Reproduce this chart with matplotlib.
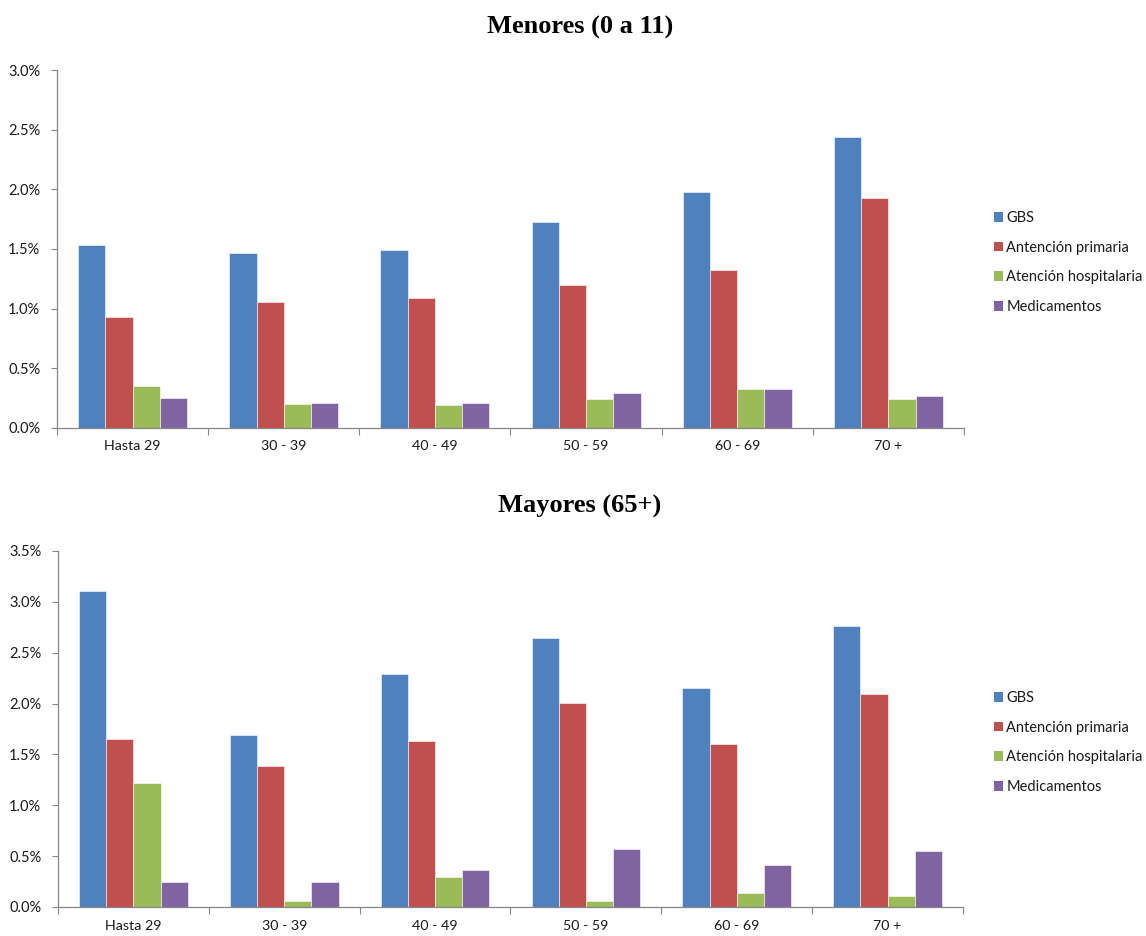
import numpy as np
import matplotlib
matplotlib.use("Agg")
import matplotlib.pyplot as plt
from matplotlib.ticker import FuncFormatter, FixedLocator
from matplotlib.patches import Patch

age_groups = ["Hasta 29", "30 - 39", "40 - 49", "50 - 59", "60 - 69", "70 +"]
series_names = ["GBS", "Antención primaria", "Atención hospitalaria", "Medicamentos"]
colors = ["#4F81BD", "#C0504D", "#9BBB59", "#8064A2"]

# Percent values per age group
menores_gbs = [1.53, 1.47, 1.49, 1.73, 1.98, 2.44]
menores_primaria = [0.93, 1.055, 1.09, 1.20, 1.325, 1.925]
menores_hospital = [0.35, 0.20, 0.19, 0.24, 0.325, 0.245]
menores_medic = [0.255, 0.21, 0.21, 0.29, 0.33, 0.265]

mayores_gbs = [3.11, 1.69, 2.29, 2.64, 2.15, 2.76]
mayores_primaria = [1.65, 1.39, 1.63, 2.01, 1.60, 2.09]
mayores_hospital = [1.215, 0.055, 0.295, 0.06, 0.14, 0.11]
mayores_medic = [0.25, 0.25, 0.365, 0.57, 0.41, 0.555]

plt.rcParams["font.family"] = ["Lato", "DejaVu Sans"]

fig = plt.figure(figsize=(11.46, 9.36), dpi=100)

panels = [
    ("Menores (0 a 11)", [menores_gbs, menores_primaria, menores_hospital, menores_medic],
     3.0, [57 / 1146, 1 - 428 / 936, 907 / 1146, 358 / 936], 1 - 27 / 936, 1 - 229 / 936),
    ("Mayores (65+)", [mayores_gbs, mayores_primaria, mayores_hospital, mayores_medic],
     3.5, [58 / 1146, 1 - 907 / 936, 905 / 1146, 356 / 936], 1 - 506 / 936, 1 - 709 / 936),
]

x = np.arange(len(age_groups))
width = 0.18
axis_grey = "#868686"
text_col = "#1a1a1a"

for title, values, ymax, rect, title_y, legend_y in panels:
    ax = fig.add_axes(rect)
    for i, (vals, col) in enumerate(zip(values, colors)):
        ax.bar(x + (i - 1.5) * width, vals, width=width, color=col,
               edgecolor="white", linewidth=0.4, zorder=2)
    ax.set_xlim(-0.5, len(age_groups) - 0.5)
    ax.set_ylim(0, ymax)
    ax.yaxis.set_major_locator(FixedLocator(np.arange(0, ymax + 0.01, 0.5)))
    ax.yaxis.set_major_formatter(FuncFormatter(lambda v, p: f"{v:.1f}%"))
    ax.set_xticks(x)
    ax.set_xticklabels(age_groups)
    ax.set_xticks(np.arange(-0.5, len(age_groups)), minor=True)
    ax.tick_params(axis="x", which="major", length=0, pad=9, labelsize=10.3, colors=text_col)
    ax.tick_params(axis="x", which="minor", length=5, width=0.8, color=axis_grey)
    ax.tick_params(axis="y", length=4, width=0.8, color=axis_grey, labelsize=10.5,
                   labelcolor=text_col, pad=8)
    for s in ["top", "right"]:
        ax.spines[s].set_visible(False)
    for s in ["left", "bottom"]:
        ax.spines[s].set_color(axis_grey)
        ax.spines[s].set_linewidth(0.9)

    fig.text(580 / 1146, title_y, title, ha="center", va="center",
             family="Liberation Serif", fontweight="bold", fontsize=19, color="black")

    handles = [Patch(facecolor=c, edgecolor="none") for c in colors]
    fig.legend(handles, series_names, loc="upper left",
               bbox_to_anchor=(988 / 1146, legend_y + 24 / 936), frameon=False,
               fontsize=10.5, handlelength=0.65, handleheight=0.65, handletextpad=0.2,
               labelspacing=1.08, borderaxespad=0, labelcolor=text_col)

fig.savefig("out.png", dpi=100, facecolor="white")
